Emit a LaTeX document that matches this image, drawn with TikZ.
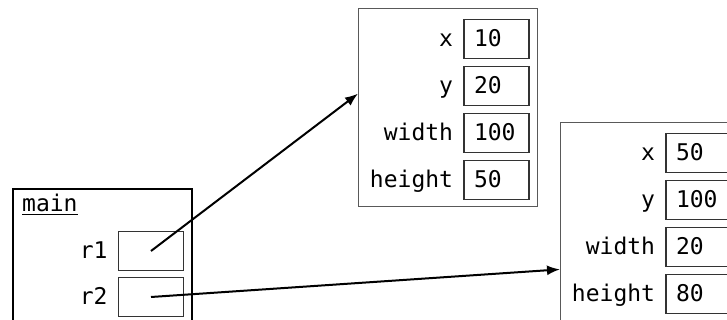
\documentclass[tikz,border=0pt]{standalone}
\usepackage{fontspec}
\setmonofont{DejaVu Sans Mono}
\usetikzlibrary{arrows.meta,calc,positioning}

\begin{document}
\begin{tikzpicture}[x=1pt,y=1pt,
  every node/.style={font=\ttfamily\fontsize{23}{27}\selectfont,inner sep=0pt},
  frame/.style={draw=black!65,line width=1.2pt,minimum width=179pt,minimum height=198pt,anchor=north west},
  cell/.style={draw=black!80,line width=1.5pt,minimum width=65pt,minimum height=39pt,
    text height=16pt,text depth=0pt,text width=45pt,inner xsep=10pt,align=left},
  field/.style={text height=16pt,text depth=0pt},
  ptr/.style={line width=2pt,-{Latex[length=13pt,width=10pt]}}
]
\path[use as bounding box,clip] (0,0) rectangle (727,320);

% stack frame
\begin{scope}[shift={(12,132)}]
  \node[frame,draw=black,line width=2.2pt] (main) at (0,0) {};
  \node[anchor=base west] (mainname) at (10,-24) {\underline{main}};
  \node[cell] (r1) at (139,-63) {};
  \node[cell] (r2) at (139,-109) {};
  \node[field,left=10pt of r1] (r1name) {r1};
  \node[field,left=10pt of r2] (r2name) {r2};
\end{scope}

% first object
\begin{scope}[shift={(358,312)}]
  \node[frame] (obj1) at (0,0) {};
  \node[cell] (x1) at (138.5,-31) {10};
  \node[cell] (y1) at (138.5,-78) {20};
  \node[cell] (w1) at (138.5,-125) {100};
  \node[cell] (h1) at (138.5,-172) {50};
  \node[field,left=10pt of x1] (x1name) {x};
  \node[field,left=10pt of y1] (y1name) {y};
  \node[field,left=10pt of w1] (w1name) {width};
  \node[field,left=10pt of h1] (h1name) {height};
\end{scope}

% second object
\begin{scope}[shift={(560,198)}]
  \node[frame] (obj2) at (0,0) {};
  \node[cell] (x2) at (138.5,-31) {50};
  \node[cell] (y2) at (138.5,-78) {100};
  \node[cell] (w2) at (138.5,-125) {20};
  \node[cell] (h2) at (138.5,-172) {80};
  \node[field,left=10pt of x2] (x2name) {x};
  \node[field,left=10pt of y2] (y2name) {y};
  \node[field,left=10pt of w2] (w2name) {width};
  \node[field,left=10pt of h2] (h2name) {height};
\end{scope}

% references
\coordinate (in1) at ($(obj1.north west)!0.43!(obj1.south west)$);
\coordinate (in2) at ($(obj2.north west)!0.74!(obj2.south west)$);
\draw[ptr] (r1.center) -- (in1);
\draw[ptr] (r2.center) -- (in2);
\end{tikzpicture}
\end{document}
